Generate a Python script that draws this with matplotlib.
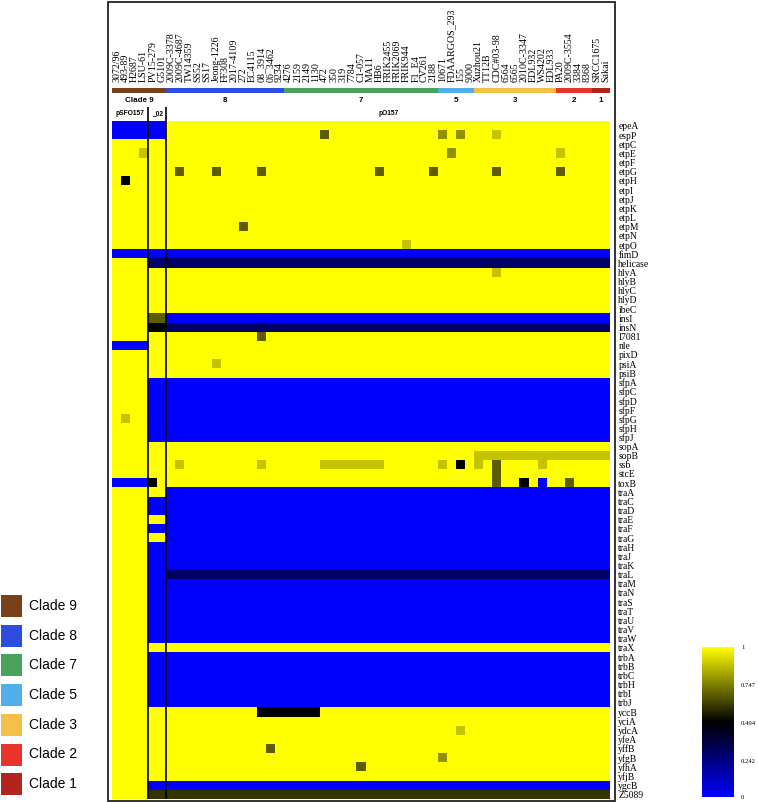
import numpy as np
import matplotlib
matplotlib.use('Agg')
import matplotlib.pyplot as plt
from matplotlib.colors import LinearSegmentedColormap, ListedColormap
from matplotlib.patches import Rectangle

W, H = 758, 802

strains = ['3072/96', '493-89', 'H2687', 'LSU-61', 'PV15-279', 'G5101',
           '2009C-3378', '2009C-4687', 'TW14359', 'SS52', 'SS17', 'Jeong-1226',
           'FF308', '2017-4109', '272', 'EC4115', '08_3914', '06_3462', '9234',
           '4276', '2159', '2149', '1130', '472', '350', '319', '7784', 'C1-057',
           'MA11', 'HB6', 'FRIK2455', 'FRIK2069', 'FRIK944', 'F1_E4', 'CV261',
           '2188', '10671', 'FDAARGOS_293', '155', '9000', 'Xuzhou21', 'TT12B',
           'CDC#03-98', '6564', '6565', '2010C-3347', 'EDL932', 'WS4202',
           'EDL933', 'PA20', '2009C-3554', '3384', '8368', 'SRCC1675', 'Sakai']

genes = ['epeA', 'espP', 'etpC', 'etpE', 'etpF', 'etpG', 'etpH', 'etpI', 'etpJ',
         'etpK', 'etpL', 'etpM', 'etpN', 'etpO', 'fimD', 'helicase', 'hlyA',
         'hlyB', 'hlyC', 'hlyD', 'ibeC', 'insI', 'insN', 'I7081', 'nle', 'pixD',
         'psiA', 'psiB', 'sfpA', 'sfpC', 'sfpD', 'sfpF', 'sfpG', 'sfpH', 'sfpJ',
         'sopA', 'sopB', 'ssb', 'stcE', 'toxB', 'traA', 'traC', 'traD', 'traE',
         'traF', 'traG', 'traH', 'traJ', 'traK', 'traL', 'traM', 'traN', 'traS',
         'traT', 'traU', 'traV', 'traW', 'traX', 'trbA', 'trbB', 'trbC', 'trbH',
         'trbI', 'trbJ', 'yccB', 'yciA', 'ydcA', 'yfeA', 'yffB', 'yfgB', 'yfhA',
         'yfjB', 'ygcB', 'Z5089']

clade_labels = ['Clade 9', 'Clade 8', 'Clade 7', 'Clade 5', 'Clade 3', 'Clade 2', 'Clade 1']
clade_bar_text = ['Clade 9', '8', '7', '5', '3', '2', '1']
clade_sizes = [6, 13, 17, 4, 9, 4, 2]
clade_colors = ['#7a4019', '#2d4de0', '#4aa35a', '#50aee8', '#f4c04a', '#e8342a', '#b3241f']

plasmid_names = ['pSFO157', '_02', 'pO157']
plasmid_sizes = [4, 2, 49]

# value codes for the identity matrix (1 = present / yellow, 0 = absent / blue)
value_codes = {'.': 1.0, 'l': 0.88, 'm': 0.78, 'd': 0.68, 'e': 0.6,
               'k': 0.5, 'n': 0.3, 'b': 0.0}

# run-length encoded rows (code + count), one per gene, 55 strains each
presence_rows = [
    "b6 .49",                                            # epeA
    "b6 .17 d1 .12 m1 .1 m1 .3 l1 .12",                  # espP
    ".55",                                               # etpC
    ".3 l1 .33 m1 .11 l1 .5",                            # etpE
    ".55",                                               # etpF
    ".7 d1 .3 d1 .4 d1 .12 d1 .5 d1 .6 d1 .6 d1 .5",     # etpG
    ".1 k1 .53",                                         # etpH
    ".55", ".55", ".55", ".55",                          # etpI-etpL
    ".14 d1 .40",                                        # etpM
    ".55",                                               # etpN
    ".32 l1 .22",                                        # etpO
    "b55",                                               # fimD
    ".4 n51",                                            # helicase
    ".42 l1 .12",                                        # hlyA
    ".55", ".55", ".55", ".55",                          # hlyB-ibeC
    ".4 d2 b49",                                         # insI
    ".4 k2 n49",                                         # insN
    ".16 d1 .38",                                        # I7081
    "b4 .51",                                            # nle
    ".55",                                               # pixD
    ".11 l1 .43",                                        # psiA
    ".55",                                               # psiB
    ".4 b51", ".4 b51", ".4 b51", ".4 b51",              # sfpA-sfpF
    ".1 l1 .2 b51",                                      # sfpG
    ".4 b51", ".4 b51",                                  # sfpH-sfpJ
    ".55",                                               # sopA
    ".40 l15",                                           # sopB
    ".7 l1 .8 l1 .6 l7 .6 l1 .1 k1 .1 l1 .1 d1 .4 l1 .7",  # ssb
    ".42 d1 .12",                                        # stcE
    "b4 k1 .37 d1 .2 k1 .1 b1 .2 d1 .4",                 # toxB
    ".6 b49",                                            # traA
    ".4 b2 b49",                                         # traC
    ".4 b2 b49",                                         # traD
    ".6 b49",                                            # traE
    ".4 b2 b49",                                         # traF
    ".6 b49",                                            # traG
    ".4 b2 b49",                                         # traH
    ".4 b2 b49",                                         # traJ
    ".4 b2 b49",                                         # traK
    ".4 b2 n49",                                         # traL
    ".4 b2 b49",                                         # traM
    ".4 b2 b49",                                         # traN
    ".4 b2 b49",                                         # traS
    ".4 b2 b49",                                         # traT
    ".4 b2 b49",                                         # traU
    ".4 b2 b49",                                         # traV
    ".4 b2 b49",                                         # traW
    ".55",                                               # traX
    ".4 b2 b49", ".4 b2 b49", ".4 b2 b49",               # trbA-trbC
    ".4 b2 b49", ".4 b2 b49", ".4 b2 b49",               # trbH-trbJ
    ".16 k7 .32",                                        # yccB
    ".55",                                               # yciA
    ".38 l1 .16",                                        # ydcA
    ".55",                                               # yfeA
    ".17 d1 .37",                                        # yffB
    ".36 m1 .18",                                        # yfgB
    ".27 d1 .27",                                        # yfhA
    ".55",                                               # yfjB
    ".4 b51",                                            # ygcB
    ".4 e51",                                            # Z5089
]

cbar_ticks = [0, 0.242, 0.494, 0.747, 1]


def decode(row):
    vals = []
    for tok in row.split():
        vals += [value_codes[tok[0]]] * int(tok[1:])
    assert len(vals) == len(strains), (row, len(vals))
    return vals


M = np.array([decode(r) for r in presence_rows])
assert M.shape == (len(genes), len(strains))

cmap = LinearSegmentedColormap.from_list(
    'byk', [(0.0, '#0000ff'), (0.5, '#000000'), (1.0, '#ffff00')])

fig = plt.figure(figsize=(W / 100, H / 100), dpi=100)


def px_axes(x0, y0, x1, y1):
    return fig.add_axes([x0 / W, 1 - y1 / H, (x1 - x0) / W, (y1 - y0) / H])


HX0, HX1, HY0, HY1 = 112, 610, 121.4, 799
serif = ['Liberation Serif', 'DejaVu Serif']
sans = ['Liberation Sans', 'DejaVu Sans']
ncol = len(strains)

# heatmap
ax = px_axes(HX0, HY0, HX1, HY1)
ax.imshow(M, cmap=cmap, vmin=0, vmax=1, aspect='auto', interpolation='nearest')
ax.set_xticks([])
ax.yaxis.tick_right()
ax.set_yticks(range(len(genes)))
ax.set_yticklabels(genes, fontfamily=serif, fontsize=6.9)
ax.tick_params(axis='y', length=0, pad=6)
for s in ax.spines.values():
    s.set_visible(False)
bounds = np.cumsum(plasmid_sizes)[:-1] - 0.5
for b in bounds:
    ax.axvline(b, color='black', lw=1.2)

# plasmid label strip
axp = px_axes(HX0, 107, HX1, HY0)
axp.set_xlim(-0.5, ncol - 0.5)
axp.set_ylim(0, 1)
axp.axis('off')
for b in bounds:
    axp.axvline(b, color='black', lw=1.2)
start = 0
for name, n in zip(plasmid_names, plasmid_sizes):
    axp.text(start + n / 2 - 0.5, 0.55, name, ha='center', va='center',
             fontsize=4.8, fontweight='bold', fontfamily=sans)
    start += n

# clade colour bar with strain labels
axc = px_axes(HX0, 87.5, HX1, 93.5)
clade_idx = np.repeat(np.arange(len(clade_sizes)), clade_sizes)[None, :]
axc.imshow(clade_idx, cmap=ListedColormap(clade_colors), vmin=-0.5,
           vmax=len(clade_sizes) - 0.5, aspect='auto', interpolation='nearest')
axc.set_yticks([])
axc.xaxis.tick_top()
axc.set_xticks(range(ncol))
axc.set_xticklabels(strains, rotation=90, fontfamily=serif, fontsize=7.2)
axc.tick_params(axis='x', length=0, pad=4)
for s in axc.spines.values():
    s.set_visible(False)

# clade number labels
axl = px_axes(HX0, 95, HX1, 107)
axl.set_xlim(-0.5, ncol - 0.5)
axl.set_ylim(0, 1)
axl.axis('off')
start = 0
for t, n in zip(clade_bar_text, clade_sizes):
    axl.text(start + n / 2 - 0.5, 0.5, t, ha='center', va='center',
             fontsize=5.8, fontweight='bold', fontfamily=sans)
    start += n

# outer frame
fig.add_artist(Rectangle((108 / W, 1 - 800.5 / H), (615 - 108) / W, (800.5 - 1.5) / H,
                         transform=fig.transFigure, fill=False, lw=1.3, ec='#222222'))

# colourbar
axcb = px_axes(702, 647, 734, 797)
grad = np.linspace(1, 0, 256)[:, None]
axcb.imshow(grad, cmap=cmap, vmin=0, vmax=1, aspect='auto',
            extent=(0, 1, 0, 1))
axcb.set_xticks([])
axcb.yaxis.tick_right()
axcb.set_yticks(cbar_ticks)
axcb.set_yticklabels([str(t) for t in cbar_ticks], fontfamily=serif, fontsize=4.8)
axcb.tick_params(axis='y', length=0, pad=5)
for s in axcb.spines.values():
    s.set_visible(False)

# clade legend
for i, (lab, col) in enumerate(zip(clade_labels, clade_colors)):
    top = 595 + 29.7 * i
    fig.add_artist(Rectangle((1 / W, 1 - (top + 22) / H), 21 / W, 22 / H,
                             transform=fig.transFigure, fc=col, ec='none'))
    fig.text(29 / W, 1 - (top + 11) / H, lab, ha='left', va='center',
             fontsize=10, fontfamily=sans)

fig.savefig('out.png', dpi=100)
